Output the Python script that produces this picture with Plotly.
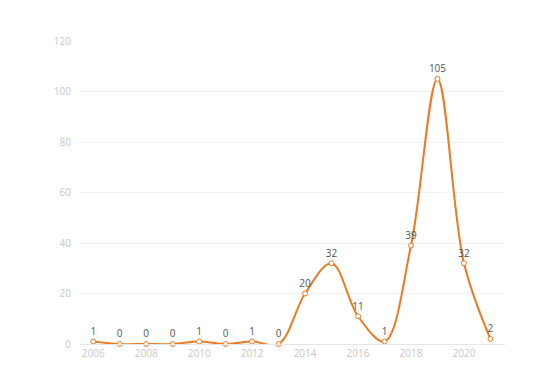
import plotly.graph_objects as go

years = list(range(2006, 2022))
counts = [1, 0, 0, 0, 1, 0, 1, 0, 20, 32, 11, 1, 39, 105, 32, 2]
x_ticks = [2006, 2008, 2010, 2012, 2014, 2016, 2018, 2020]
y_ticks = [0, 20, 40, 60, 80, 100, 120]

color = "#eb7a23"

fig = go.Figure()
fig.add_trace(go.Scatter(
    x=years, y=counts,
    mode="lines+markers+text",
    line=dict(color=color, width=2, shape="spline", smoothing=1.0),
    marker=dict(symbol="circle", size=5, color="white", line=dict(color=color, width=1)),
    text=[str(v) for v in counts],
    textposition="top center",
    textfont=dict(size=10, color="#555555"),
    cliponaxis=False,
    hoverinfo="x+y",
))

fig.update_layout(
    width=544, height=384,
    margin=dict(l=72, r=47, t=33, b=48, autoexpand=False),
    paper_bgcolor="white", plot_bgcolor="white",
    showlegend=False,
    font=dict(family="Open Sans, DejaVu Sans, sans-serif", size=10, color="#cccccc"),
    xaxis=dict(
        range=[2005.5, 2021.55],
        tickvals=x_ticks,
        ticktext=[str(t) for t in x_ticks],
        showgrid=False, zeroline=False,
        showline=True, linecolor="#e6e6e6", linewidth=1,
        ticks="", tickfont=dict(size=10, color="#c8c8c8"),
        automargin=False,
    ),
    yaxis=dict(
        range=[0, 120],
        tickvals=y_ticks,
        showgrid=True, gridcolor="#f3f3f3", gridwidth=1,
        zeroline=False, showline=False,
        ticks="outside", ticklen=6, tickcolor="rgba(0,0,0,0)",
        tickfont=dict(size=10, color="#c8c8c8"),
        automargin=False,
    ),
)

fig.write_html("out.html")
